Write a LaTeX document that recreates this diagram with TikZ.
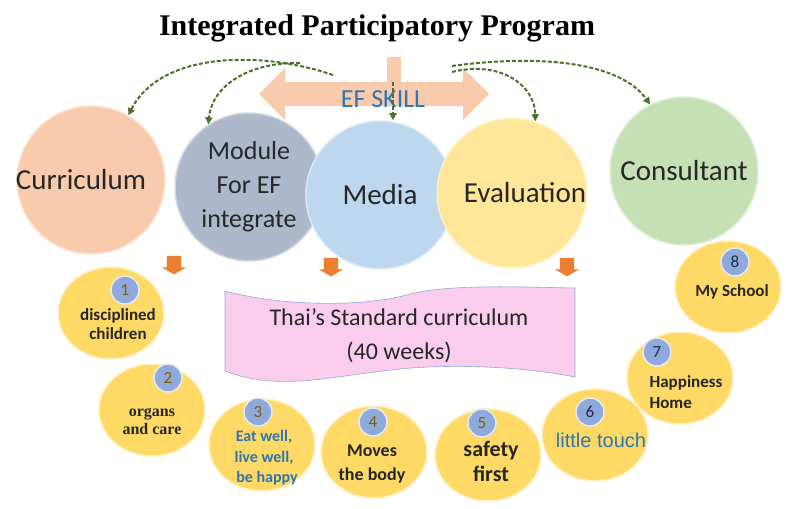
\documentclass[tikz,border=0pt]{standalone}
\usepackage{fontspec}
\setmainfont{Carlito}
\newfontfamily\timesfont{Liberation Serif}
\newfontfamily\arialfont{Liberation Sans}
\usepackage{tikz}
\usetikzlibrary{arrows.meta,positioning,shapes.geometric,shapes.arrows}
\definecolor{IPPeach}{HTML}{F8CBAD}
\definecolor{IPSlate}{HTML}{ADB9CA}
\definecolor{IPSky}{HTML}{BDD7EE}
\definecolor{IPCream}{HTML}{FFE699}
\definecolor{IPSage}{HTML}{C5E0B4}
\definecolor{IPGold}{HTML}{FFD966}
\definecolor{IPBadge}{HTML}{8EA9DB}
\definecolor{IPOrange}{HTML}{ED7D31}
\definecolor{IPPink}{HTML}{F9CDEB}
\definecolor{IPEdge}{HTML}{8FAADC}
\definecolor{IPGreen}{HTML}{4A7229}
\definecolor{IPBlue}{HTML}{2E75B6}
\definecolor{IPBrown}{HTML}{7F6000}
\definecolor{IPNavy}{HTML}{1F2A44}
\definecolor{IPInk}{HTML}{262626}

\begin{document}
\begin{tikzpicture}[
    x=1pt, y=-1pt,
    bigcircle/.style={
      circle,
      fill=#1,
      draw=#1!55!white,
      line width=1.5pt,
      minimum size=148pt,
      inner sep=0pt,
      align=center,
      text=IPInk,
      font=\fontsize{29}{34}\selectfont
    },
    topic/.style={
      ellipse,
      fill=IPGold,
      draw=IPGold!40!white,
      line width=1.5pt,
      minimum width=106pt,
      minimum height=92pt
    },
    badge/.style={
      circle,
      fill=IPBadge,
      draw=IPBadge!25!white,
      line width=1.5pt,
      minimum size=28pt,
      inner sep=0pt,
      text=#1,
      font=\fontsize{17}{17}\selectfont
    },
    topictext/.style={
      align=center,
      inner sep=0pt,
      text=IPInk,
      font=\bfseries\fontsize{17}{19}\selectfont
    },
    droparrow/.style={
      single arrow,
      shape border rotate=270,
      fill=IPOrange,
      minimum height=16pt,
      single arrow head extend=5pt,
      single arrow tip angle=120,
      inner sep=7pt
    },
    link/.style={
      -{Triangle[length=7pt,width=7pt]},
      IPGreen,
      line width=2pt,
      dash pattern=on 4pt off 2pt
    }
  ]
  \useasboundingbox (0,0) rectangle (786,508);

  % heading
  \node[font=\timesfont\bfseries\fontsize{30}{34}\selectfont] (title) at (377,28)
    {Integrated Participatory Program};

  % EF skill arrow with its stem
  \node[fill=IPPeach, minimum width=14pt, minimum height=26pt, inner sep=0pt] (efstem) at (394,70) {};
  \node[double arrow, fill=IPPeach, minimum height=230pt, inner xsep=0pt, inner ysep=12pt,
        double arrow head extend=14pt] (efarrow) at (374,94) {};
  \node[text=IPBlue, font=\fontsize{26}{26}\selectfont] (efskill) at (383,99) {EF SKILL};

  % main components
  \node[bigcircle=IPPeach] (curr)  at (91,180)  {\hspace*{-20pt}Curriculum};
  \node[bigcircle=IPSlate, font=\fontsize{26}{34}\selectfont] (module) at (249,187) {Module\\For EF\\integrate};
  \node[bigcircle=IPSky]   (media) at (380,195) {Media};
  \node[bigcircle=IPCream] (eval)  at (512,193) {\hspace*{26pt}Evaluation};
  \node[bigcircle=IPSage]  (cons)  at (684,171) {Consultant};

  % dashed links out of the EF arrow
  \coordinate (lsrc1) at (333,75);
  \coordinate (lsrc2) at (300,63);
  \coordinate (msrc)  at (393,82);
  \coordinate (rsrc1) at (452,72);
  \coordinate (rsrc2) at (452,66);
  \draw[link] (lsrc1) .. controls (260,50) and (160,52) .. (curr.60);
  \draw[link] (lsrc2) .. controls (250,62) and (212,85) .. (module.123);
  \draw[link] (msrc) -- (msrc |- media.north);
  \draw[link] (rsrc1) .. controls (500,60) and (535,85) .. (eval.72);
  \draw[link] (rsrc2) .. controls (540,54) and (620,62) .. (cons.117);

  % drop arrows
  \node[droparrow] (drop1) at (174,263) {};
  \node[droparrow] (drop2) at (331,265) {};
  \node[droparrow] (drop3) at (567,265) {};

  % standard curriculum banner
  \fill[IPPink] (225,291) .. controls (290,308) and (370,306) .. (410,294)
    .. controls (450,284) and (520,287) .. (575,288) -- (575,377)
    .. controls (520,366) and (450,364) .. (400,369)
    .. controls (330,376) and (280,392) .. (225,371) -- cycle;
  \draw[IPEdge, line width=0.6pt] (225,291) .. controls (290,308) and (370,306) .. (410,294)
    .. controls (450,284) and (520,287) .. (575,288) -- (575,377)
    .. controls (520,366) and (450,364) .. (400,369)
    .. controls (330,376) and (280,392) .. (225,371) -- cycle;
  \node[align=center, text=IPInk, font=\fontsize{24}{34}\selectfont] (std) at (399,336)
    {Thai’s Standard curriculum\\(40 weeks)};

  % eight topics
  \node[topic] (c1) at (111,313) {};
  \node[topic] (c2) at (152,410) {};
  \node[topic] (c3) at (262,445) {};
  \node[topic] (c4) at (374,452) {};
  \node[topic] (c5) at (488,455) {};
  \node[topic] (c6) at (595,435) {};
  \node[topic] (c7) at (680,378) {};
  \node[topic] (c8) at (728,287) {};

  \node[badge=IPBrown] (b1) at (125,290) {1};
  \node[badge=IPBrown] (b2) at (168,378) {2};
  \node[badge=IPBrown] (b3) at (258,412) {3};
  \node[badge=IPBrown] (b4) at (373,422) {4};
  \node[badge=IPBrown] (b5) at (482,423) {5};
  \node[badge=IPNavy]  (b6) at (590,412) {6};
  \node[badge=IPNavy]  (b7) at (657,352) {7};
  \node[badge=IPNavy]  (b8) at (735,262) {8};

  \node[topictext] (t1) at (118,324) {disciplined\\children};
  \node[topictext, font=\timesfont\bfseries\fontsize{16}{18}\selectfont] (t2) at (152,421) {organs\\and care};
  \node[topictext, text=IPBlue, font=\bfseries\fontsize{16}{20.5}\selectfont] (t3) at (264,458) {Eat well,\\live well,\\\hspace*{6pt}be happy};
  \node[topictext, font=\bfseries\fontsize{18}{24}\selectfont] (t4) at (372,464) {Moves\\the body};
  \node[topictext, font=\bfseries\fontsize{22}{25}\selectfont] (t5) at (491,461) {safety\\first};
  \node[topictext, text=IPBlue, font=\arialfont\fontsize{20}{22}\selectfont] (t6) at (601,440) {little touch};
  \node[topictext, align=left, font=\bfseries\fontsize{17}{21}\selectfont] (t7) at (686,392) {Happiness\\Home};
  \node[topictext] (t8) at (732,292) {My School};

\end{tikzpicture}
\end{document}
